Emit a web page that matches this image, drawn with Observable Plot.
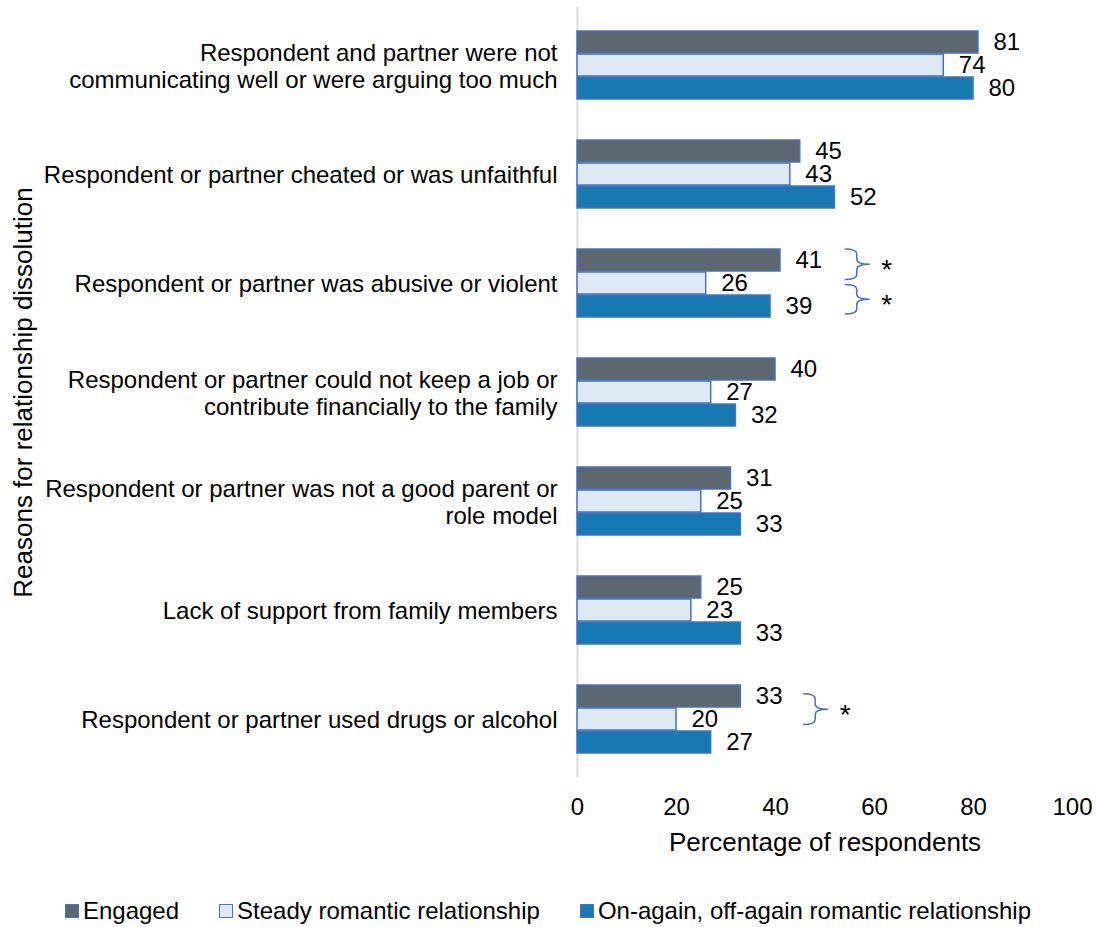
<!DOCTYPE html>
<html>
<head>
<meta charset="utf-8">
<script src="https://cdn.jsdelivr.net/npm/d3@7"></script>
<script src="https://cdn.jsdelivr.net/npm/@observablehq/plot@0.6"></script>
<style>
  html, body { margin: 0; padding: 0; background: #fff; }
  body { width: 1096px; font-family: "Liberation Sans", Arial, sans-serif; }
  #chart svg { display: block; }
  .legend { display: flex; justify-content: center; align-items: center; gap: 40px;
    font-size: 24px; line-height: 28px; color: #000; margin-top: 27px; }
  .legend .item { display: flex; align-items: center; }
  .legend .sw { width: 12px; height: 12px; border: 1px solid #4472C4; margin-right: 4px; }
</style>
</head>
<body>
<div id="chart"></div>
<script>
// ---------- data ----------
const categories = [
  "Respondent and partner were not\ncommunicating well or were arguing too much",
  "Respondent or partner cheated or was unfaithful",
  "Respondent or partner was abusive or violent",
  "Respondent or partner could not keep a job or\ncontribute financially to the family",
  "Respondent or partner was not a good parent or\nrole model",
  "Lack of support from family members",
  "Respondent or partner used drugs or alcohol"
];
const seriesNames = ["Engaged", "Steady romantic relationship", "On-again, off-again romantic relationship"];
const engaged = [81, 45, 41, 40, 31, 25, 33];
const steady  = [74, 43, 26, 27, 25, 23, 20];
const onAgain = [80, 52, 39, 32, 33, 33, 27];
const xTicks = [0, 20, 40, 60, 80, 100];
const xLabel = "Percentage of respondents";
const yLabel = "Reasons for relationship dissolution";
// significance brackets: category, span in bar slots (0 = top of first bar, 3 = bottom of third), x in %
const brackets = [
  {category: categories[2], from: 0.0, to: 1.35, x: 54.1},
  {category: categories[2], from: 1.57, to: 2.87, x: 54.1},
  {category: categories[6], from: 0.39, to: 1.74, x: 45.7}
];

// ---------- styling ----------
const colors = ["#5D6770", "#DFE9F3", "#1779B2"];
const edge = "#4472C4";
const seriesValues = [engaged, steady, onAgain];
const rows = seriesValues.map((vals, i) =>
  categories.map((c, j) => ({category: c, series: seriesNames[i], value: vals[j]})));

const barMarks = rows.map((data, i) => Plot.barX(data, {
  x: "value", y: "category",
  fill: colors[i], stroke: edge, strokeWidth: 1.5,
  insetTop: 23 * i, insetBottom: 23 * (2 - i)
}));
const labelMarks = rows.map((data, i) => Plot.text(data, {
  x: "value", y: "category", text: d => String(d.value),
  dx: 15, dy: (i - 1) * 23, textAnchor: "start", fontSize: 24, fill: "#000"
}));

const braceMark = Plot.dot(brackets, {
  x: "x", y: "category",
  render: (index, scales, values, dimensions) => {
    const g = d3.create("svg:g");
    const bw = scales.y.bandwidth();
    const slot = bw / 3;
    for (const i of index) {
      const b = brackets[i];
      const y0 = scales.y(b.category);
      const top = y0 + b.from * slot, bot = y0 + b.to * slot, mid = (top + bot) / 2;
      const x0 = scales.x(b.x), xv = x0 + 12, xt = x0 + 25, r = 5;
      const d = `M${x0},${top} Q${xv},${top} ${xv},${top + r} L${xv},${mid - r} Q${xv},${mid} ${xt},${mid}` +
                ` M${xt},${mid} Q${xv},${mid} ${xv},${mid + r} L${xv},${bot - r} Q${xv},${bot} ${x0},${bot}`;
      g.append("path").attr("d", d).attr("fill", "none").attr("stroke", edge).attr("stroke-width", 1.5);
      g.append("text").attr("x", xt + 17).attr("y", mid + 15).attr("text-anchor", "middle")
        .attr("font-size", 28).attr("fill", "#000").text("*");
    }
    return g.node();
  }
});

const chart = Plot.plot({
  width: 1096,
  height: 870,
  marginLeft: 577,
  marginRight: 24,
  marginTop: 7,
  marginBottom: 93,
  style: {fontFamily: "'Liberation Sans', Arial, sans-serif", fontSize: "24px", color: "#000", background: "#fff"},
  x: {domain: [0, 100]},
  y: {domain: categories, paddingInner: 0.3727, paddingOuter: 0.1864, axis: null},
  marks: [
    Plot.ruleX([0], {stroke: "#D9D9D9", strokeWidth: 2}),
    ...barMarks,
    ...labelMarks,
    braceMark,
    Plot.axisX({ticks: xTicks, tickSize: 0, tickPadding: 20, fontSize: 24, label: null, tickFormat: d => String(d)}),
    Plot.text(categories, {y: d => d, frameAnchor: "left", dx: -20, textAnchor: "end",
      fontSize: 24, lineHeight: 1.15, fill: "#000"}),
    Plot.text([xLabel], {frameAnchor: "bottom", dy: 73, textAnchor: "middle", fontSize: 26, fill: "#000"}),
    Plot.text([yLabel], {frameAnchor: "left", dx: -554, textAnchor: "middle", rotate: -90, fontSize: 26, fill: "#000"})
  ]
});
document.getElementById("chart").appendChild(chart);

// legend
const legend = document.createElement("div");
legend.className = "legend";
seriesNames.forEach((s, i) => {
  const item = document.createElement("div");
  item.className = "item";
  const sw = document.createElement("span");
  sw.className = "sw";
  sw.style.background = colors[i];
  const t = document.createElement("span");
  t.textContent = s;
  item.appendChild(sw);
  item.appendChild(t);
  legend.appendChild(item);
});
document.body.appendChild(legend);
</script>
</body>
</html>
